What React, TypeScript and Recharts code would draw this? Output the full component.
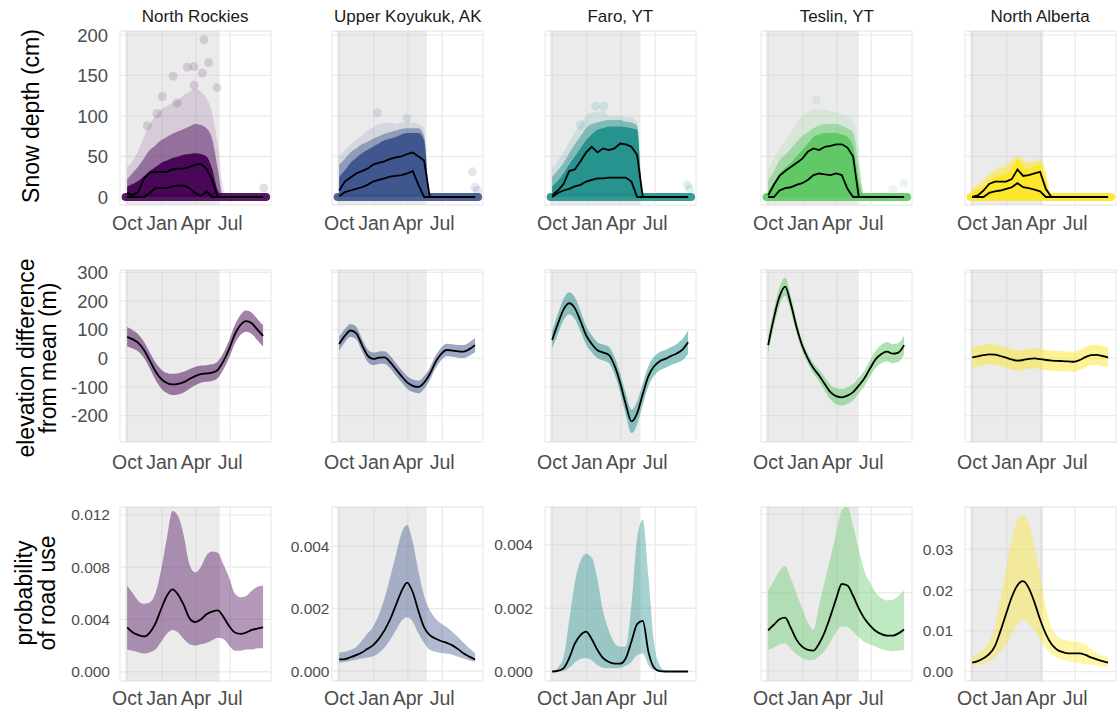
import React from 'react';
import {
  ComposedChart,
  Area,
  Line,
  Scatter,
  XAxis,
  YAxis,
  CartesianGrid,
  ReferenceArea,
  ReferenceLine,
} from 'recharts';

// days counted from 1 October
const DAYS = [0, 15, 30, 45, 60, 75, 90, 105, 120, 135, 150, 165, 180, 195, 210, 225, 240, 255, 270, 285, 300, 315, 330, 345, 360];
const MONTH_TICKS = [0, 92, 182, 273];
const MONTH_LABELS = ['Oct', 'Jan', 'Apr', 'Jul'];

const REGIONS = ['North Rockies', 'Upper Koyukuk, AK', 'Faro, YT', 'Teslin, YT', 'North Alberta'];
const COLORS = ['#440154', '#3B528B', '#21908C', '#5DC863', '#FDE725'];
const WINTER_END = [245, 232, 234, 240, 188];

const SNOW_TICKS = [0, 50, 100, 150, 200];
const ELEV_TICKS = [-200, -100, 0, 100, 200, 300];

// snow depth (cm): point cloud envelopes + two summary lines
const snowHaloNR = [37, 45, 58, 75, 90, 100, 108, 112, 116, 120, 126, 130, 134, 130, 122, 104, 65, 10, 0, 0, 0, 0, 0, 0, 0];
const snowMidNR = [22, 30, 38, 48, 58, 64, 70, 74, 78, 81, 84, 87, 90, 89, 85, 72, 35, 0, 0, 0, 0, 0, 0, 0, 0];
const snowCoreNR = [13, 16, 20, 26, 32, 37, 42, 45, 48, 50, 52, 53, 54, 53, 50, 35, 8, 0, 0, 0, 0, 0, 0, 0, 0];
const snowUpNR = [5, 2, 7, 23, 30, 31, 31, 31, 34, 35, 35, 37, 40, 41, 35, 21, 0, 0, 0, 0, 0, 0, 0, 0, 0];
const snowLowNR = [0, 0, 0, 0, 5, 11, 11, 11, 13, 14, 14, 11, 5, 1, 7, 0, 0, 0, 0, 0, 0, 0, 0, 0, 0];

const snowHaloUK = [50, 58, 65, 70, 76, 82, 86, 90, 92, 92, 90, 92, 92, 92, 90, 85, 0, 0, 0, 0, 0, 0, 0, 0, 0];
const snowMidUK = [40, 47, 55, 60, 65, 68, 72, 75, 78, 80, 82, 84, 85, 85, 85, 75, 0, 0, 0, 0, 0, 0, 0, 0, 0];
const snowCoreUK = [25, 33, 42, 48, 54, 58, 62, 66, 70, 72, 74, 77, 79, 79, 79, 70, 0, 0, 0, 0, 0, 0, 0, 0, 0];
const snowUpUK = [8, 19, 24, 29, 32, 35, 40, 42, 44, 47, 49, 50, 53, 55, 50, 45, 0, 0, 0, 0, 0, 0, 0, 0, 0];
const snowLowUK = [1, 6, 8, 10, 12, 15, 19, 21, 23, 25, 26, 27, 29, 32, 15, 0, 0, 0, 0, 0, 0, 0, 0, 0, 0];

const snowHaloFA = [35, 45, 55, 68, 80, 90, 100, 104, 105, 106, 100, 100, 100, 99, 98, 92, 0, 0, 0, 0, 0, 0, 0, 0, 0];
const snowMidFA = [25, 33, 42, 54, 65, 75, 85, 90, 92, 94, 95, 95, 95, 93, 92, 88, 0, 0, 0, 0, 0, 0, 0, 0, 0];
const snowCoreFA = [13, 20, 29, 40, 50, 60, 70, 77, 83, 85, 87, 87, 87, 86, 85, 83, 0, 0, 0, 0, 0, 0, 0, 0, 0];
const snowUpFA = [2, 8, 16, 32, 34, 44, 55, 62, 55, 60, 58, 60, 66, 65, 62, 52, 0, 0, 0, 0, 0, 0, 0, 0, 0];
const snowLowFA = [0, 5, 8, 10, 13, 15, 19, 21, 23, 23, 24, 24, 24, 24, 19, 0, 0, 0, 0, 0, 0, 0, 0, 0, 0];

const snowHaloTE = [35, 48, 60, 70, 80, 90, 100, 105, 108, 108, 108, 106, 105, 102, 100, 95, 60, 0, 0, 0, 0, 0, 0, 0, 0];
const snowMidTE = [20, 32, 45, 52, 60, 68, 75, 80, 85, 88, 90, 90, 90, 88, 85, 80, 40, 0, 0, 0, 0, 0, 0, 0, 0];
const snowCoreTE = [7, 18, 29, 36, 42, 50, 58, 66, 74, 77, 79, 79, 79, 77, 74, 62, 20, 0, 0, 0, 0, 0, 0, 0, 0];
const snowUpTE = [2, 15, 26, 32, 37, 42, 47, 56, 60, 58, 62, 63, 65, 65, 61, 50, 0, 0, 0, 0, 0, 0, 0, 0, 0];
const snowLowTE = [0, 0, 8, 11, 12, 15, 17, 21, 27, 29, 28, 27, 29, 27, 10, 0, 0, 0, 0, 0, 0, 0, 0, 0, 0];

const snowHaloNA = [12, 18, 24, 30, 35, 40, 42, 48, 52, 48, 45, 47, 48, 35, 0, 0, 0, 0, 0, 0, 0, 0, 0, 0, 0];
const snowMidNA = [10, 15, 20, 27, 32, 36, 38, 44, 50, 45, 42, 44, 45, 30, 0, 0, 0, 0, 0, 0, 0, 0, 0, 0, 0];
const snowCoreNA = [7, 10, 13, 20, 25, 27, 29, 35, 46, 38, 35, 38, 40, 21, 0, 0, 0, 0, 0, 0, 0, 0, 0, 0, 0];
const snowUpNA = [0, 2, 8, 16, 19, 19, 19, 22, 34, 26, 27, 29, 31, 10, 0, 0, 0, 0, 0, 0, 0, 0, 0, 0, 0];
const snowLowNA = [0, 0, 0, 5, 7, 8, 10, 12, 17, 12, 11, 9, 7, 0, 0, 0, 0, 0, 0, 0, 0, 0, 0, 0, 0];

// isolated deep-snow points
const outDayNR = [203, 216, 122, 159, 177, 199, 238, 93, 53, 177, 132, 79, 362];
const outValNR = [194, 166, 149, 160, 161, 153, 135, 124, 88, 138, 116, 103, 11];
const outDayUK = [101, 179, 353, 360, 366];
const outValUK = [104, 97, 31, 12, 8];
const outDayFA = [115, 137, 75, 358, 364];
const outValFA = [112, 112, 89, 15, 10];
const outDayTE = [128, 359, 331];
const outValTE = [120, 17, 9];
const outDayNA: number[] = [];
const outValNA: number[] = [];

// elevation difference from mean (m)
const elevMidNR = [75, 66, 53, 28, -8, -45, -72, -86, -91, -89, -83, -72, -62, -55, -53, -50, -40, -10, 32, 83, 116, 130, 122, 100, 78];
const elevHiNR = [109, 98, 83, 56, 20, -15, -39, -51, -54, -52, -47, -38, -30, -25, -24, -21, -11, 19, 62, 115, 151, 167, 159, 137, 115];
const elevLoNR = [41, 34, 23, 0, -36, -75, -105, -121, -128, -126, -119, -106, -94, -85, -82, -79, -69, -39, 2, 51, 81, 93, 85, 63, 41];

const elevMidUK = [50, 78, 97, 88, 48, 10, -2, 2, 3, -13, -38, -62, -84, -96, -100, -85, -55, -14, 15, 29, 27, 24, 23, 32, 46];
const elevHiUK = [75, 102, 120, 110, 70, 32, 20, 24, 25, 9, -16, -40, -62, -74, -78, -63, -33, 8, 37, 51, 49, 46, 46, 56, 71];
const elevLoUK = [26, 56, 75, 66, 26, -12, -24, -20, -19, -35, -60, -84, -106, -118, -122, -107, -77, -36, -7, 7, 5, 2, 1, 9, 22];

const elevMidFA = [64, 120, 170, 192, 175, 130, 80, 50, 28, 20, 12, -25, -85, -160, -220, -192, -125, -62, -28, -10, -2, 8, 17, 30, 56];
const elevHiFA = [94, 155, 207, 230, 213, 166, 112, 80, 56, 48, 40, 5, -52, -123, -179, -152, -87, -27, 5, 22, 29, 39, 50, 67, 97];
const elevLoFA = [34, 85, 133, 154, 137, 94, 48, 20, 0, -8, -16, -55, -118, -197, -261, -232, -163, -97, -61, -42, -33, -23, -16, -7, 15];

const elevMidTE = [46, 140, 215, 250, 190, 110, 45, 0, -35, -60, -90, -118, -132, -136, -130, -118, -95, -70, -35, -3, 15, 23, 16, 20, 46];
const elevHiTE = [74, 170, 247, 282, 218, 132, 63, 17, -17, -40, -67, -92, -104, -107, -101, -90, -68, -43, -7, 27, 47, 57, 49, 53, 80];
const elevLoTE = [18, 110, 183, 218, 162, 88, 27, -17, -53, -80, -113, -144, -160, -165, -159, -146, -122, -97, -63, -33, -17, -11, -17, -13, 12];

const elevMidNA = [3, 7, 11, 14, 13, 8, 2, -4, -8, -6, -2, 0, -3, -6, -8, -9, -10, -11, -12, -6, 4, 11, 12, 8, 3];
const elevHiNA = [38, 42, 46, 49, 48, 43, 37, 31, 27, 29, 33, 35, 32, 29, 27, 26, 25, 24, 23, 29, 39, 46, 47, 43, 38];
const elevLoNA = [-32, -28, -24, -21, -22, -27, -33, -39, -43, -41, -37, -35, -38, -41, -43, -44, -45, -46, -47, -41, -31, -24, -23, -27, -32];

// probability of road use
const probMidNR = [0.0034, 0.003, 0.0028, 0.0027, 0.003, 0.0037, 0.0048, 0.0058, 0.0063, 0.0059, 0.0051, 0.0041, 0.0038, 0.004, 0.0044, 0.0046, 0.0047, 0.0042, 0.0035, 0.003, 0.0029, 0.003, 0.0032, 0.0033, 0.0034];
const probHiNR = [0.0066, 0.006, 0.0054, 0.0052, 0.0053, 0.006, 0.0078, 0.0102, 0.0123, 0.0119, 0.0104, 0.0082, 0.0076, 0.008, 0.0089, 0.0092, 0.0091, 0.0082, 0.0072, 0.006, 0.0057, 0.0058, 0.0062, 0.0065, 0.0066];
const probLoNR = [0.0017, 0.0016, 0.0015, 0.0014, 0.0015, 0.0017, 0.0023, 0.0029, 0.0032, 0.003, 0.0025, 0.0021, 0.002, 0.0021, 0.0022, 0.0024, 0.0026, 0.0025, 0.002, 0.0016, 0.0016, 0.0017, 0.0017, 0.0018, 0.0018];

const probMidUK = [0.00037, 0.00038, 0.00044, 0.00051, 0.00059, 0.00071, 0.00083, 0.00103, 0.0013, 0.00165, 0.0021, 0.00255, 0.00283, 0.00252, 0.00192, 0.0014, 0.00115, 0.00104, 0.00096, 0.0009, 0.00082, 0.0007, 0.00056, 0.00046, 0.00037];
const probHiUK = [0.00059, 0.00062, 0.00067, 0.00077, 0.00097, 0.0012, 0.00142, 0.0018, 0.00232, 0.003, 0.0037, 0.0044, 0.00467, 0.00412, 0.0032, 0.0024, 0.00195, 0.00168, 0.00152, 0.0014, 0.00125, 0.00108, 0.0009, 0.00073, 0.00057];
const probLoUK = [0.00027, 0.00029, 0.00033, 0.00036, 0.0004, 0.00043, 0.00047, 0.00058, 0.00075, 0.001, 0.0013, 0.0016, 0.00172, 0.00158, 0.0012, 0.0009, 0.00068, 0.00062, 0.00058, 0.00056, 0.00052, 0.00046, 0.0004, 0.00034, 0.0003];

const probMidFA = [0, 0.00002, 0.0001, 0.00042, 0.00088, 0.00115, 0.00126, 0.00102, 0.00068, 0.00042, 0.0003, 0.00025, 0.00025, 0.00042, 0.00095, 0.0015, 0.0016, 0.00062, 0.00012, 0.00001, 0, 0, 0, 0, 0];
const probHiFA = [0.00001, 0.00012, 0.00045, 0.0016, 0.0028, 0.0035, 0.00372, 0.0036, 0.0029, 0.0019, 0.0013, 0.0009, 0.00078, 0.0008, 0.0021, 0.0042, 0.0048, 0.003, 0.0009, 0.0002, 0.00003, 0, 0, 0, 0];
const probLoFA = [0, 0, 0.00002, 0.00012, 0.00028, 0.0004, 0.00043, 0.00035, 0.0002, 0.00012, 0.0001, 0.0001, 0.00012, 0.00018, 0.0003, 0.00052, 0.00057, 0.0002, 0.00004, 0, 0, 0, 0, 0, 0];

const probMidTE = [0.0052, 0.0059, 0.0066, 0.0068, 0.0055, 0.004, 0.0031, 0.0027, 0.0026, 0.0035, 0.005, 0.007, 0.0092, 0.0111, 0.0109, 0.0096, 0.008, 0.0067, 0.0058, 0.0051, 0.0047, 0.0045, 0.0045, 0.0048, 0.0053];
const probHiTE = [0.0103, 0.0115, 0.0128, 0.0134, 0.0118, 0.0099, 0.008, 0.0062, 0.0053, 0.0084, 0.0115, 0.0145, 0.0175, 0.0205, 0.021, 0.0185, 0.0155, 0.0128, 0.0113, 0.01, 0.0093, 0.009, 0.0091, 0.0096, 0.0103];
const probLoTE = [0.0027, 0.003, 0.0034, 0.0035, 0.0028, 0.0021, 0.0017, 0.0014, 0.0014, 0.0019, 0.0026, 0.0037, 0.005, 0.0057, 0.0056, 0.005, 0.0043, 0.0037, 0.0034, 0.0031, 0.0028, 0.0026, 0.0025, 0.0026, 0.0027];

const probMidNA = [0.0022, 0.0026, 0.0033, 0.0043, 0.0062, 0.01, 0.0142, 0.0183, 0.0212, 0.0222, 0.0205, 0.017, 0.0128, 0.0093, 0.0068, 0.0054, 0.0048, 0.0045, 0.0045, 0.0045, 0.0041, 0.0035, 0.003, 0.0026, 0.0022];
const probHiNA = [0.0037, 0.0045, 0.0056, 0.0074, 0.011, 0.018, 0.025, 0.0325, 0.0372, 0.0384, 0.0362, 0.031, 0.0236, 0.016, 0.0108, 0.0088, 0.0079, 0.0076, 0.0074, 0.0072, 0.0067, 0.0055, 0.0046, 0.004, 0.0036];
const probLoNA = [0.0014, 0.0016, 0.002, 0.0026, 0.0036, 0.005, 0.0068, 0.0092, 0.0117, 0.0128, 0.0118, 0.01, 0.0079, 0.0058, 0.0044, 0.0035, 0.0029, 0.0025, 0.0023, 0.0021, 0.0019, 0.0017, 0.0015, 0.0013, 0.0012];

const PROB_TICKS = [
  [0, 0.004, 0.008, 0.012],
  [0, 0.002, 0.004],
  [0, 0.002, 0.004],
  [0, 0.01, 0.02],
  [0, 0.01, 0.02, 0.03],
];

const SNOW = [
  { halo: snowHaloNR, mid: snowMidNR, core: snowCoreNR, up: snowUpNR, low: snowLowNR, outD: outDayNR, outV: outValNR },
  { halo: snowHaloUK, mid: snowMidUK, core: snowCoreUK, up: snowUpUK, low: snowLowUK, outD: outDayUK, outV: outValUK },
  { halo: snowHaloFA, mid: snowMidFA, core: snowCoreFA, up: snowUpFA, low: snowLowFA, outD: outDayFA, outV: outValFA },
  { halo: snowHaloTE, mid: snowMidTE, core: snowCoreTE, up: snowUpTE, low: snowLowTE, outD: outDayTE, outV: outValTE },
  { halo: snowHaloNA, mid: snowMidNA, core: snowCoreNA, up: snowUpNA, low: snowLowNA, outD: outDayNA, outV: outValNA },
];
const ELEV = [
  [elevMidNR, elevLoNR, elevHiNR],
  [elevMidUK, elevLoUK, elevHiUK],
  [elevMidFA, elevLoFA, elevHiFA],
  [elevMidTE, elevLoTE, elevHiTE],
  [elevMidNA, elevLoNA, elevHiNA],
];
const PROB = [
  [probMidNR, probLoNR, probHiNR],
  [probMidUK, probLoUK, probHiUK],
  [probMidFA, probLoFA, probHiFA],
  [probMidTE, probLoTE, probHiTE],
  [probMidNA, probLoNA, probHiNA],
];

// layout
const FONT = '"Liberation Sans", Arial, Helvetica, sans-serif';
const PLOT_LEFT = [119.7, 332.3, 544.8, 761.3, 964.7];
const PLOT_W = 151;
const ROW_TOP = [31, 270, 507];
const ROW_H = [174, 172, 174];
const X_AXIS_H = 34;
const PAD_X = 22;
const PAD_TOP = 12;
const X_DOMAIN: [number, number] = [-19, 381];
const PROB_DOMAIN: [number, number][] = [
  [-0.00071, 0.01261],
  [-0.00032, 0.00525],
  [-0.0003, 0.0052],
  [-0.00128, 0.02093],
  [-0.00228, 0.04037],
];
const PROB_GAP = [10, 2.5, 12, 12, 12];

function monthLabel(v: number) {
  const i = MONTH_TICKS.indexOf(v);
  return i >= 0 ? MONTH_LABELS[i] : '';
}

interface FrameProps {
  row: number;
  col: number;
  data: any[];
  yDomain: [number, number];
  yTicks: number[];
  showY: boolean;
  yFormat: (v: number) => string;
  yFont: number;
  yGap: number;
  xGap: number;
  children: React.ReactNode;
}

function Frame({ row, col, data, yDomain, yTicks, showY, yFormat, yFont, yGap, xGap, children }: FrameProps) {
  const yw = showY ? 60 : 0;
  const ml = showY ? 0 : PAD_X;
  return (
    <div style={{ position: 'absolute', left: PLOT_LEFT[col] - yw - ml, top: ROW_TOP[row] - PAD_TOP }}>
      <ComposedChart
        width={PLOT_W + yw + ml + PAD_X}
        height={ROW_H[row] + X_AXIS_H + PAD_TOP}
        data={data}
        margin={{ top: PAD_TOP, right: PAD_X, bottom: 0, left: ml }}
      >
        <CartesianGrid stroke="#ebebeb" strokeWidth={1.3} />
        <ReferenceArea x1={-5} x2={WINTER_END[col]} fill="#cccccc" fillOpacity={0.4} stroke="none" />
        <XAxis
          type="number"
          dataKey="d"
          domain={X_DOMAIN}
          ticks={MONTH_TICKS}
          interval={0}
          tickFormatter={monthLabel}
          tickLine={false}
          axisLine={false}
          tickSize={0}
          tickMargin={xGap}
          height={X_AXIS_H}
          allowDataOverflow
          tick={{ fontSize: 19.5, fill: '#4d4d4d', fontFamily: FONT }}
        />
        <YAxis
          type="number"
          domain={yDomain}
          ticks={yTicks}
          interval={0}
          hide={!showY}
          width={yw}
          tickFormatter={yFormat}
          tickLine={false}
          axisLine={false}
          tickSize={0}
          tickMargin={yGap}
          allowDataOverflow
          tick={{ fontSize: yFont, fill: '#4d4d4d', fontFamily: FONT }}
        />
        {children}
      </ComposedChart>
    </div>
  );
}

const ghostDot = (color: string) => (p: any) => (
  <circle cx={p.cx} cy={p.cy} r={4.5} fill={color} fillOpacity={0.14} />
);

function SnowPanel({ col }: { col: number }) {
  const s = SNOW[col];
  const c = COLORS[col];
  const data = DAYS.map((d, i) => ({ d, halo: s.halo[i], mid: s.mid[i], core: s.core[i], up: s.up[i], low: s.low[i] }));
  const outliers = s.outD.map((d, i) => ({ d, v: s.outV[i] }));
  return (
    <Frame
      row={0}
      col={col}
      data={data}
      yDomain={[-9.9, 204.9]}
      yTicks={SNOW_TICKS}
      showY={col === 0}
      yFormat={(v) => String(v)}
      yFont={18.5}
      yGap={12}
      xGap={11}
    >
      <Area dataKey="halo" type="monotone" stroke="none" fill={c} fillOpacity={0.13} isAnimationActive={false} />
      <Area dataKey="mid" type="monotone" stroke="none" fill={c} fillOpacity={0.45} isAnimationActive={false} />
      <Area dataKey="core" type="monotone" stroke="none" fill={c} fillOpacity={0.95} isAnimationActive={false} />
      <ReferenceLine
        segment={[{ x: -4, y: 0 }, { x: 368, y: 0 }]}
        stroke={c}
        strokeWidth={8}
        strokeOpacity={0.9}
        strokeLinecap="round"
      />
      {outliers.length > 0 && (
        <Scatter data={outliers} dataKey="v" shape={ghostDot(c)} isAnimationActive={false} />
      )}
      <Line dataKey="up" type="linear" stroke="#000" strokeWidth={1.8} dot={false} isAnimationActive={false} />
      <Line dataKey="low" type="linear" stroke="#000" strokeWidth={1.8} dot={false} isAnimationActive={false} />
    </Frame>
  );
}

function ElevPanel({ col }: { col: number }) {
  const [mid, lo, hi] = ELEV[col];
  const data = DAYS.map((d, i) => ({ d, mid: mid[i], range: [lo[i], hi[i]] }));
  return (
    <Frame
      row={1}
      col={col}
      data={data}
      yDomain={[-292, 308]}
      yTicks={ELEV_TICKS}
      showY={col === 0}
      yFormat={(v) => String(v)}
      yFont={18.5}
      yGap={12}
      xGap={13}
    >
      <Area dataKey="range" type="monotone" stroke="none" fill={COLORS[col]} fillOpacity={0.5} isAnimationActive={false} />
      <Line dataKey="mid" type="monotone" stroke="#000" strokeWidth={1.8} dot={false} isAnimationActive={false} />
    </Frame>
  );
}

function ProbPanel({ col }: { col: number }) {
  const [mid, lo, hi] = PROB[col];
  const data = DAYS.map((d, i) => ({ d, mid: mid[i], range: [lo[i], hi[i]] }));
  const digits = col === 4 ? 2 : 3;
  return (
    <Frame
      row={2}
      col={col}
      data={data}
      yDomain={PROB_DOMAIN[col]}
      yTicks={PROB_TICKS[col]}
      showY={col !== 3}
      yFormat={(v) => v.toFixed(digits)}
      yFont={15.5}
      yGap={PROB_GAP[col]}
      xGap={10}
    >
      <Area dataKey="range" type="monotone" stroke="none" fill={COLORS[col]} fillOpacity={0.4} isAnimationActive={false} />
      <Line dataKey="mid" type="monotone" stroke="#000" strokeWidth={1.8} dot={false} isAnimationActive={false} />
    </Frame>
  );
}

export default function App() {
  const cols = [0, 1, 2, 3, 4];
  return (
    <div style={{ position: 'absolute', left: 0, top: 0, width: 1120, height: 711, background: '#fff', fontFamily: FONT, overflow: 'hidden' }}>
      {cols.map((c) => <SnowPanel key={'s' + c} col={c} />)}
      {cols.map((c) => <ElevPanel key={'e' + c} col={c} />)}
      {cols.map((c) => <ProbPanel key={'p' + c} col={c} />)}
      <svg width={1120} height={711} style={{ position: 'absolute', left: 0, top: 0, pointerEvents: 'none' }}>
        {REGIONS.map((r, c) => (
          <text key={r} x={PLOT_LEFT[c] + PLOT_W / 2} y={21.5} textAnchor="middle" fontSize={17} fill="#1a1a1a" fontFamily={FONT}>
            {r}
          </text>
        ))}
        <g fontSize={23} fill="#000" fontFamily={FONT} textAnchor="middle">
          <text transform="translate(39,116) rotate(-90)">Snow depth (cm)</text>
          <text transform="translate(34,358) rotate(-90)">elevation difference</text>
          <text transform="translate(56,358) rotate(-90)">from mean (m)</text>
          <text transform="translate(32,593) rotate(-90)">probability</text>
          <text transform="translate(55,593) rotate(-90)">of road use</text>
        </g>
      </svg>
    </div>
  );
}
